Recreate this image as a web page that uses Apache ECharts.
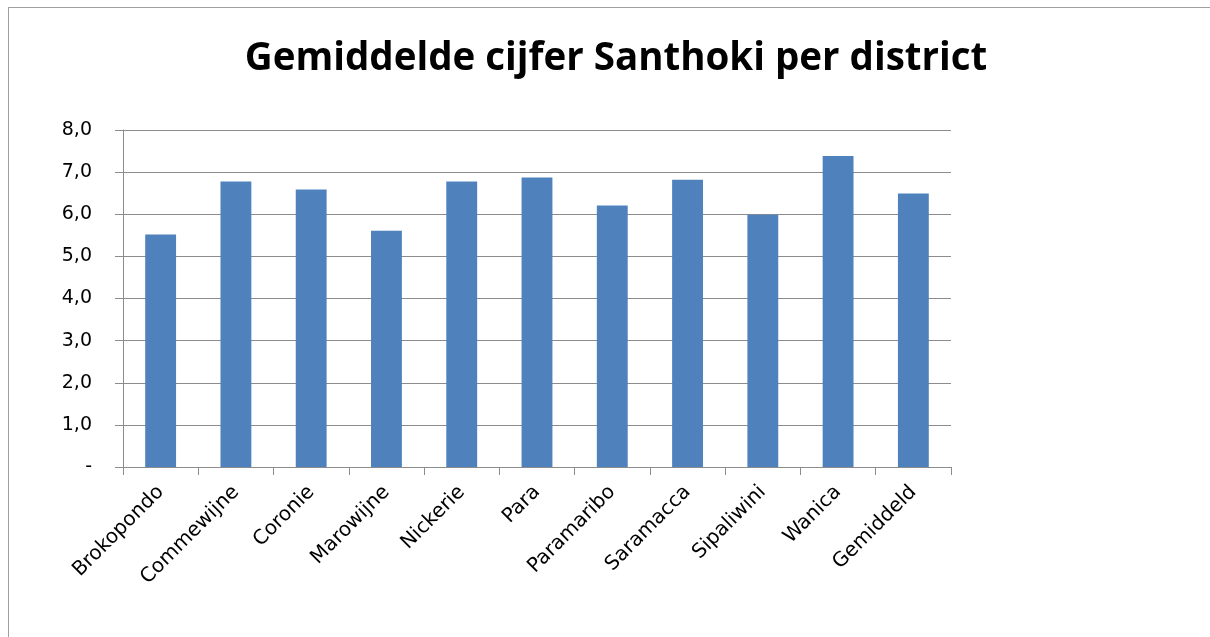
<!DOCTYPE html>
<html>
<head>
<meta charset="utf-8">
<script src="https://cdn.jsdelivr.net/npm/echarts@6/dist/echarts.min.js"></script>
<style>
html, body { margin: 0; padding: 0; background: #fff; }
#frame {
    position: absolute; left: 8px; top: 7px; width: 1220px; height: 650px;
    border: 1px solid #a0a0a0; box-sizing: border-box;
}
#chart { position: absolute; left: 0; top: 0; width: 1210px; height: 637px; }
</style>
</head>
<body>
<div id="frame"></div>
<div id="chart"></div>
<script>
// districten en gemiddelde cijfers
const districts = ['Brokopondo', 'Commewijne', 'Coronie', 'Marowijne', 'Nickerie', 'Para',
    'Paramaribo', 'Saramacca', 'Sipaliwini', 'Wanica', 'Gemiddeld']
const scores = [5.52, 6.78, 6.59, 5.61, 6.78, 6.87, 6.21, 6.82, 5.99, 7.38, 6.49]

const gray = '#8c8c8c'
const chart = echarts.init(document.getElementById('chart'))
chart.setOption({
    animation: false,
    title: {
        text: 'Gemiddelde cijfer Santhoki per district',
        left: 611,
        textAlign: 'center',
        top: 35,
        textStyle: {
            fontFamily: 'Open Sans',
            fontWeight: 'bold',
            fontSize: 38.5,
            color: '#000'
        }
    },
    grid: {
        left: 123,
        right: 259,
        top: 130,
        bottom: 170
    },
    xAxis: {
        type: 'category',
        data: districts,
        axisLine: { lineStyle: { color: gray, width: 1 } },
        axisTick: { show: true, length: 8, lineStyle: { color: gray } },
        axisLabel: {
            rotate: 45,
            margin: 22,
            fontFamily: 'DejaVu Sans',
            fontSize: 20,
            color: '#000'
        }
    },
    yAxis: {
        type: 'value',
        min: 0,
        max: 8,
        interval: 1,
        axisLine: { show: true, lineStyle: { color: gray, width: 1 } },
        axisTick: { show: true, length: 8, lineStyle: { color: gray } },
        axisLabel: {
            margin: 31,
            fontFamily: 'DejaVu Sans',
            fontSize: 19,
            color: '#000',
            formatter: v => v === 0 ? '-' : v.toFixed(1).replace('.', ',')
        },
        splitLine: { lineStyle: { color: gray, width: 1 } }
    },
    series: [{
        type: 'bar',
        data: scores,
        barWidth: '41%',
        itemStyle: { color: '#4f81bd' }
    }]
})
</script>
</body>
</html>
